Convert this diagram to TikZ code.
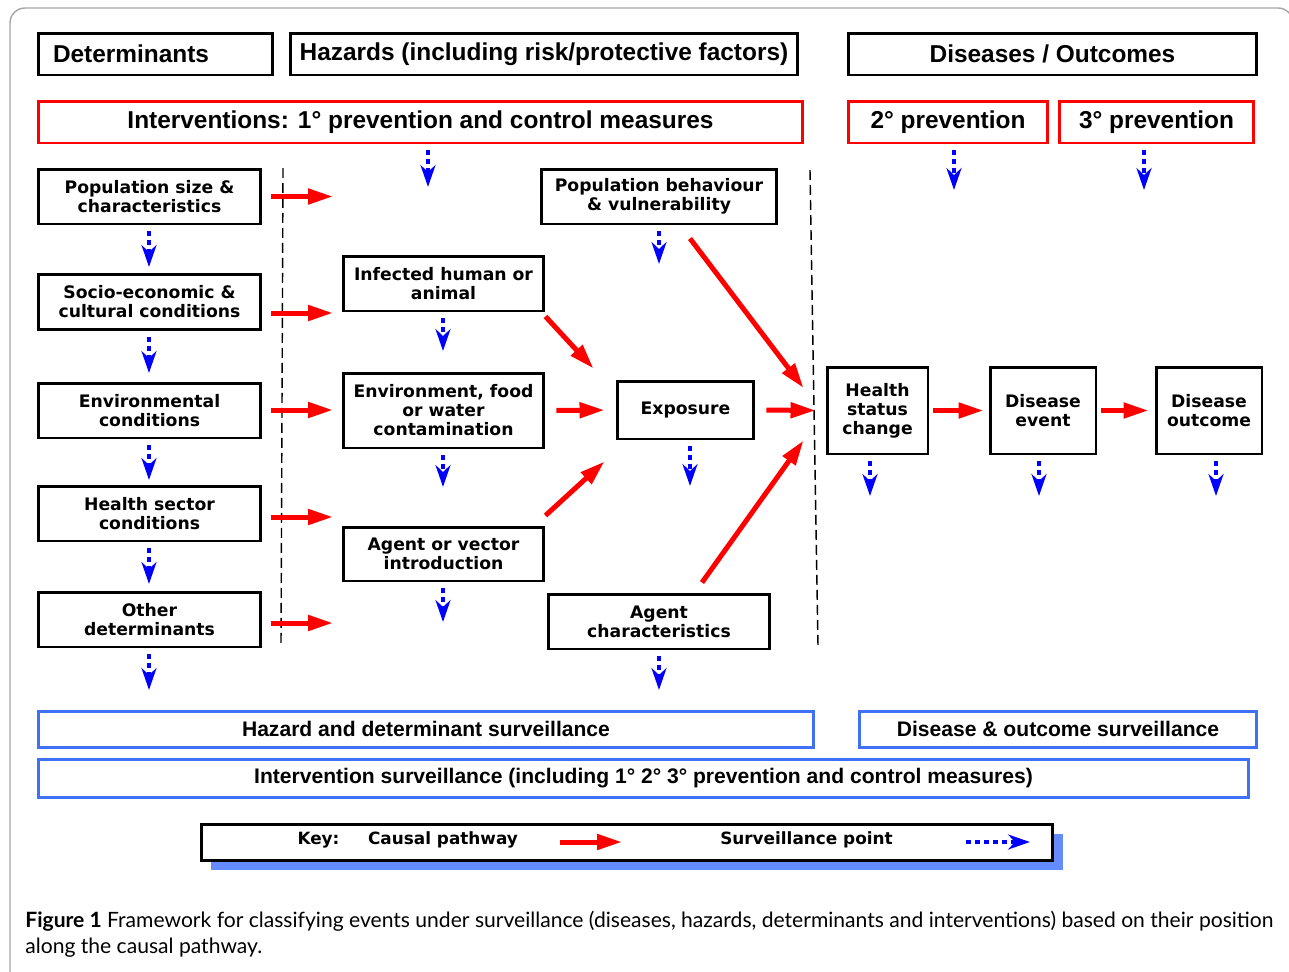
\documentclass[tikz,border=0pt]{standalone}
\usepackage{fontspec}
\setmainfont{DejaVu Sans}
\newfontfamily\headfont{Liberation Sans}
\newfontfamily\capfont{Lato}
\usepackage{tikz}
\usetikzlibrary{
    arrows.meta,
    positioning,
    shadows,
    calc
}
\definecolor{causalred}{RGB}{255,0,0}
\definecolor{survblue}{RGB}{0,0,255}
\definecolor{boxblue}{RGB}{64,112,245}
\definecolor{keyshadow}{RGB}{100,140,255}
\definecolor{framegray}{RGB}{165,165,165}
\tikzset{
    header/.style={
        rectangle,
        draw=black,
        line width=1.7pt,
        minimum height=0.84cm,
        inner sep=0pt,
        font=\headfont\bfseries\fontsize{13.9}{16}\selectfont
    },
    prevbox/.style={
        header,
        draw=causalred
    },
    factor/.style={
        rectangle,
        draw=black,
        line width=1.7pt,
        minimum height=1.1cm,
        inner sep=0pt,
        align=center,
        font=\bfseries\fontsize{9.8}{10.8}\selectfont
    },
    survbox/.style={
        rectangle,
        draw=boxblue,
        line width=1.7pt,
        minimum height=0.72cm,
        inner sep=0pt,
        font=\headfont\bfseries\fontsize{12}{14}\selectfont
    },
    keytext/.style={
        font=\bfseries\fontsize{9.6}{11}\selectfont,
        inner sep=0pt
    },
    causal/.style={
        -{Triangle[length=0.5cm, width=0.3cm]},
        draw=causalred,
        line width=0.1cm
    },
    surv/.style={
        -{Stealth[length=0.44cm, width=0.3cm]},
        draw=survblue,
        line width=0.09cm,
        dash pattern=on 0.1cm off 0.08cm
    },
    divider/.style={
        draw=black,
        line width=0.8pt,
        dash pattern=on 0.2cm off 0.1cm
    }
}

\begin{document}
\begin{tikzpicture}[x=0.02cm, y=-0.02cm]
    \useasboundingbox (0,0) rectangle (1289,971);
    \draw[framegray, line width=0.8pt, rounded corners=0.3cm]
        (10,990) -- (10,8) -- (1293,8) -- (1293,990);

    % Headers
    \node[header, text width=4.1cm, inner xsep=0.3cm, align=left] (det) at (155.5,54) {Determinants};
    \node[header, minimum width=10.16cm] (haz) at (544,54) {Hazards (including risk/protective factors)};
    \node[header, minimum width=8.18cm] (dis) at (1052.5,54) {Diseases / Outcomes};

    % Prevention
    \node[prevbox, minimum width=15.3cm] (prev1) at (420.5,122) {Interventions: 1° prevention and control measures};
    \node[prevbox, minimum width=4cm] (prev2) at (948,122) {2° prevention};
    \node[prevbox, minimum width=3.9cm] (prev3) at (1156.5,122) {3° prevention};

    % Determinants
    \node[factor, minimum width=4.46cm] (pop) at (149.5,196.5) {Population size \&\\characteristics};
    \node[factor, minimum width=4.46cm] (soc) at (149.5,302) {Socio-economic \&\\cultural conditions};
    \node[factor, minimum width=4.46cm] (envc) at (149.5,410.5) {Environmental\\conditions};
    \node[factor, minimum width=4.46cm] (hsec) at (149.5,513.5) {Health sector\\conditions};
    \node[factor, minimum width=4.46cm] (oth) at (149.5,619.5) {Other\\determinants};

    % Hazards
    \node[factor, minimum width=4.02cm] (inf) at (443.5,283.5) {Infected human or\\animal};
    \node[factor, minimum width=4.02cm, minimum height=1.5cm] (envf) at (443.5,410.5) {Environment, food\\or water\\contamination};
    \node[factor, minimum width=4.02cm, minimum height=1.08cm] (agv) at (443.5,554) {Agent or vector\\introduction};
    \node[factor, minimum width=4.72cm] (popb) at (659,196.5) {Population behaviour\\\& vulnerability};
    \node[factor, minimum width=2.74cm, minimum height=1.16cm] (expo) at (685.5,410) {Exposure};
    \node[factor, minimum width=4.44cm] (agch) at (659,621.5) {Agent\\characteristics};

    % Outcomes
    \node[factor, minimum width=2.02cm, minimum height=1.74cm] (hsc) at (877.5,410.5) {Health\\status\\change};
    \node[factor, minimum width=2.12cm, minimum height=1.74cm] (dev) at (1043,410.5) {Disease\\event};
    \node[factor, minimum width=2.12cm, minimum height=1.74cm] (dout) at (1209,410.5) {Disease\\outcome};

    % Dividers
    \draw[divider] (283,168) -- (281,646);
    \draw[divider] (810,170) -- (818,646);

    % Causal pathway
    \foreach \n/\y in {pop/196.5, soc/313, envc/410, hsec/517, oth/623} {
        \coordinate (\n-h) at (333,\y);
        \draw[causal, shorten <=0.18cm] (\n.east |- \n-h) -- (\n-h);
    }
    \draw[causal] ([yshift=-0.08cm]inf.south east) -- ([shift={(-0.44cm,0.22cm)}]expo.north west);
    \draw[causal, shorten <=0.22cm, shorten >=0.22cm] (envf.east) -- (expo.west);
    \draw[causal] ([yshift=0.2cm]agv.north east) -- ([shift={(-0.22cm,-0.42cm)}]expo.south west);
    \draw[causal, shorten <=0.22cm, shorten >=0.2cm] (expo.east) -- (hsc.west);
    \draw[causal] ([shift={(0.62cm,-0.26cm)}]popb.south) -- ([shift={(-0.44cm,0.45cm)}]hsc.west);
    \draw[causal] ([shift={(0.86cm,0.2cm)}]agch.north) -- ([shift={(-0.44cm,-0.6cm)}]hsc.west);
    \draw[causal, shorten <=0.08cm, shorten >=0.1cm] (hsc.east) -- (dev.west);
    \draw[causal, shorten <=0.08cm, shorten >=0.12cm] (dev.east) -- (dout.west);

    % Surveillance points
    \foreach \n/\x/\y in {prev1/428/187, prev2/954/190, prev3/1144/190,
        pop/149/267, soc/149/373, envc/149/480, hsec/149/584, oth/149/690,
        inf/443/351, envf/443/487, agv/443/622,
        popb/659/264, expo/690/486, agch/659/690,
        hsc/870/496, dev/1039/496, dout/1216/496} {
        \coordinate (\n-s) at (\x,\y);
        \draw[surv, shorten <=0.12cm] (\n.south -| \n-s) -- (\n-s);
    }

    % Surveillance
    \node[survbox, minimum width=15.52cm] (hds) at (426,729) {Hazard and determinant surveillance};
    \node[survbox, minimum width=7.96cm] (dos) at (1058,729) {Disease \& outcome surveillance};
    \node[survbox, minimum width=24.22cm, minimum height=0.76cm] (ints) at (643.5,778)
        {Intervention surveillance (including 1° 2° 3° prevention and control measures)};

    % Key
    \node[rectangle, draw=black, fill=white, line width=1.7pt, minimum width=17.04cm, minimum height=0.72cm,
        drop shadow={shadow xshift=0.2cm, shadow yshift=-0.2cm, fill=keyshadow, opacity=1}] (key) at (627,842) {};
    \node[keytext] (keylbl) at (318.5,840) {Key:};
    \node[keytext] (cpath) at (443,840) {Causal pathway};
    \node[keytext] (spoint) at (806.5,840) {Surveillance point};
    \coordinate (kc1) at (560,842);
    \coordinate (kc2) at (622,842);
    \coordinate (ks1) at (966,842);
    \coordinate (ks2) at (1030,842);
    \draw[causal] (kc1) -- (kc2);
    \draw[surv] (ks1) -- (ks2);

    % Caption
    \node[anchor=north west, align=left, inner sep=0pt, font=\capfont\fontsize{12}{14.6}\selectfont] (caption) at (25,911)
        {\textbf{Figure 1} Framework for classifying events under surveillance (diseases, hazards, determinants and interventions) based on their position\\along the causal pathway.};
\end{tikzpicture}
\end{document}
